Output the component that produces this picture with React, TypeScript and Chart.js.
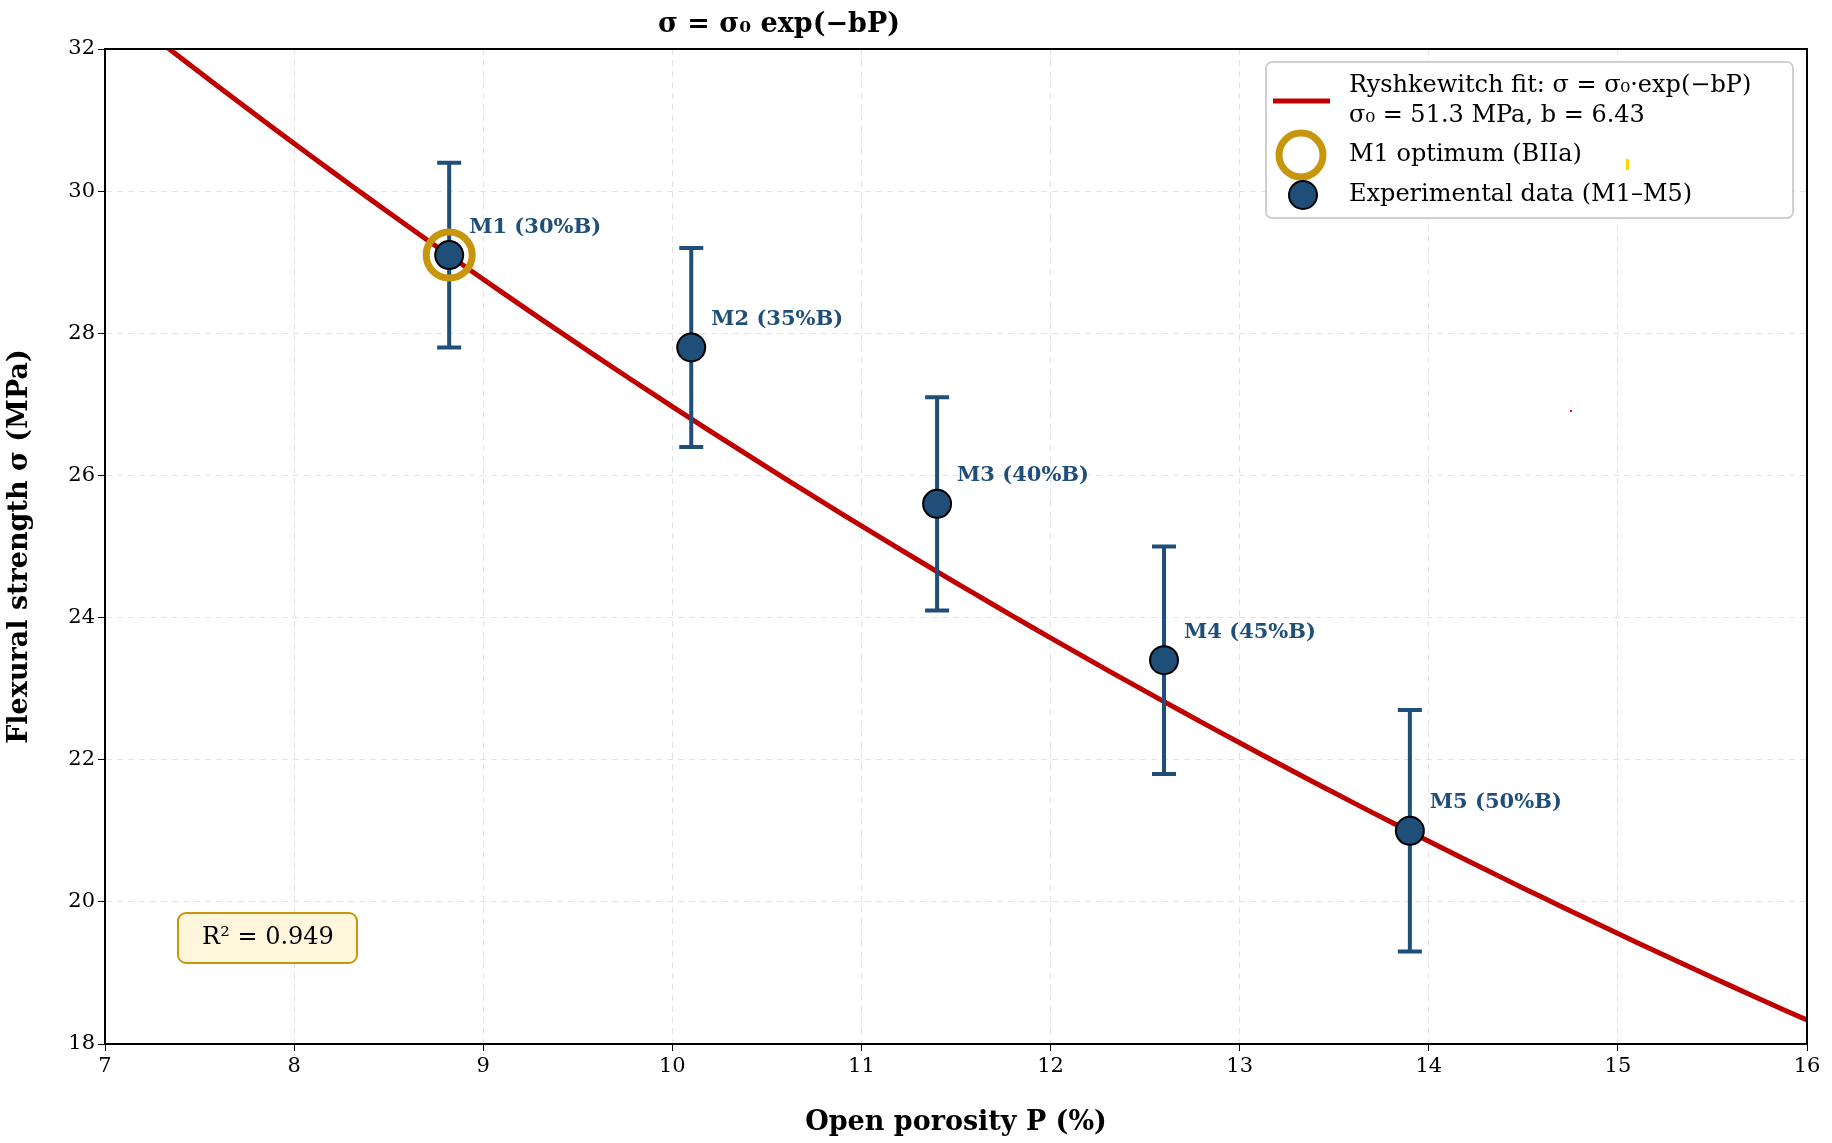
import React, { useEffect, useRef } from "react";
import { Chart, registerables } from "chart.js";
Chart.register(...registerables);

const porosity = [8.82, 10.1, 11.4, 12.6, 13.9];
const strength = [29.1, 27.8, 25.6, 23.4, 21.0];
const errors = [1.3, 1.4, 1.5, 1.6, 1.7];
const labels = ["M1 (30%B)", "M2 (35%B)", "M3 (40%B)", "M4 (45%B)", "M5 (50%B)"];
const sigma0 = 51.3;
const bCoef = 6.43;
const fitX = Array.from({ length: 91 }, (_, i) => 7 + i * 0.1);

const BLUE = "#1f4e79";
const GOLD = "#c8960c";
const RED = "#c00000";
const FONT = "'DejaVu Serif', serif";

export default function App() {
  const ref = useRef<HTMLCanvasElement>(null);
  useEffect(() => {
    const deco = {
      id: "deco",
      afterDatasetsDraw(chart: any) {
        const ctx = chart.ctx;
        const xs = chart.scales.x, ys = chart.scales.y;
        ctx.save();
        // error bars
        ctx.strokeStyle = BLUE; ctx.lineWidth = 4;
        porosity.forEach((p, i) => {
          const x = xs.getPixelForValue(p);
          const y1 = ys.getPixelForValue(strength[i] + errors[i]);
          const y2 = ys.getPixelForValue(strength[i] - errors[i]);
          ctx.beginPath();
          ctx.moveTo(x, y1); ctx.lineTo(x, y2);
          ctx.moveTo(x - 12, y1); ctx.lineTo(x + 12, y1);
          ctx.moveTo(x - 12, y2); ctx.lineTo(x + 12, y2);
          ctx.stroke();
        });
        // points
        porosity.forEach((p, i) => {
          const x = xs.getPixelForValue(p), y = ys.getPixelForValue(strength[i]);
          ctx.beginPath(); ctx.arc(x, y, 14, 0, Math.PI * 2);
          ctx.fillStyle = BLUE; ctx.fill();
          ctx.lineWidth = 2; ctx.strokeStyle = "#000"; ctx.stroke();
        });
        // gold ring
        {
          const x = xs.getPixelForValue(porosity[0]), y = ys.getPixelForValue(strength[0]);
          ctx.beginPath(); ctx.arc(x, y, 23, 0, Math.PI * 2);
          ctx.lineWidth = 7; ctx.strokeStyle = GOLD; ctx.stroke();
        }
        // labels
        ctx.font = `bold 21px ${FONT}`; ctx.fillStyle = BLUE;
        ctx.textAlign = "left"; ctx.textBaseline = "middle";
        porosity.forEach((p, i) => {
          const x = xs.getPixelForValue(p), y = ys.getPixelForValue(strength[i]);
          ctx.fillText(labels[i], x + 20, y - 28);
        });
        // R2 box
        ctx.beginPath();
        (ctx as any).roundRect(178, 913, 179, 50, 8);
        ctx.fillStyle = "#fff6dc"; ctx.fill();
        ctx.lineWidth = 2; ctx.strokeStyle = GOLD; ctx.stroke();
        ctx.fillStyle = "#000"; ctx.font = `24px ${FONT}`; ctx.textAlign = "center";
        ctx.fillText("R² = 0.949", 268, 938);
        // legend
        ctx.beginPath();
        (ctx as any).roundRect(1266, 62, 527, 156, 6);
        ctx.fillStyle = "rgba(255,255,255,0.9)"; ctx.fill();
        ctx.lineWidth = 2; ctx.strokeStyle = "#d0d0d0"; ctx.stroke();
        ctx.strokeStyle = RED; ctx.lineWidth = 5;
        ctx.beginPath(); ctx.moveTo(1273, 101); ctx.lineTo(1330, 101); ctx.stroke();
        ctx.beginPath(); ctx.arc(1301, 155, 22, 0, Math.PI * 2);
        ctx.lineWidth = 7; ctx.strokeStyle = GOLD; ctx.stroke();
        ctx.beginPath(); ctx.arc(1303, 195, 14, 0, Math.PI * 2);
        ctx.fillStyle = BLUE; ctx.fill(); ctx.lineWidth = 2; ctx.strokeStyle = "#000"; ctx.stroke();
        ctx.fillStyle = "#000"; ctx.font = `24px ${FONT}`; ctx.textAlign = "left";
        ctx.fillText("Ryshkewitch fit: σ = σ₀·exp(−bP)", 1349, 86);
        ctx.fillText("σ₀ = 51.3 MPa, b = 6.43", 1349, 116);
        ctx.fillText("M1 optimum (BIIa)", 1349, 155);
        ctx.fillText("Experimental data (M1–M5)", 1349, 195);
        // stray marks
        ctx.fillStyle = "#ffd700"; ctx.fillRect(1626, 159, 3, 11);
        ctx.fillStyle = "#ff0000"; ctx.fillRect(1570, 410, 2, 2);
        // title
        ctx.fillStyle = "#000"; ctx.font = `bold 27px ${FONT}`; ctx.textAlign = "center";
        ctx.fillText("σ = σ₀ exp(−bP)", 779, 25);
        ctx.restore();
      },
    };
    const chart = new Chart(ref.current!, {
      type: "scatter",
      data: {
        datasets: [
          {
            type: "line",
            data: fitX.map((x) => ({ x, y: sigma0 * Math.exp((-bCoef * x) / 100) })),
            borderColor: RED, borderWidth: 5, pointRadius: 0, showLine: true,
          } as any,
        ],
      },
      options: {
        animation: false, responsive: false,
        layout: { padding: { top: 49, right: 25 } },
        plugins: { legend: { display: false }, tooltip: { enabled: false } },
        scales: {
          x: {
            type: "linear", min: 7, max: 16,
            ticks: { stepSize: 1, color: "#000", font: { family: FONT, size: 21 } },
            grid: { color: "#e3e3e3", tickColor: "#000", tickLength: 7, drawOnChartArea: true } as any,
            border: { color: "#000", width: 2, dash: [] } as any,
            title: { display: true, text: "Open porosity P (%)", color: "#000", font: { family: FONT, size: 27, weight: "bold" } },
            afterFit: (s: any) => { s.height = 99; },
          },
          y: {
            min: 18, max: 32,
            ticks: { stepSize: 2, color: "#000", font: { family: FONT, size: 21 } },
            grid: { color: "#e3e3e3", tickColor: "#000", tickLength: 7 },
            border: { color: "#000", width: 2 },
            title: { display: true, text: "Flexural strength σ (MPa)", color: "#000", font: { family: FONT, size: 27, weight: "bold" } },
            afterFit: (s: any) => { s.width = 105; },
          },
        },
      },
      plugins: [
        deco,
        {
          id: "dashgrid",
          beforeDraw(chart: any) {
            chart.scales.x.options.grid.borderDash = [6, 5];
          },
        },
        {
          id: "frame",
          afterDraw(chart: any) {
            const a = chart.chartArea, ctx = chart.ctx;
            ctx.save(); ctx.strokeStyle = "#000"; ctx.lineWidth = 2;
            ctx.strokeRect(a.left, a.top, a.right - a.left, a.bottom - a.top); ctx.restore();
          },
        },
      ],
    } as any);
    // dashed grid lines
    (chart.options.scales as any).x.grid.borderDash = [6, 5];
    (chart.options.scales as any).x.border.dash = [6, 5];
    (chart.options.scales as any).y.border.dash = [6, 5];
    (chart.options.scales as any).x.border.dashOffset = 0;
    chart.update();
    return () => chart.destroy();
  }, []);
  return (
    <div style={{ position: "absolute", left: 0, top: 0, width: 1832, height: 1143, background: "#fff" }}>
      <canvas ref={ref} width={1832} height={1143} style={{ width: 1832, height: 1143 }} />
    </div>
  );
}
